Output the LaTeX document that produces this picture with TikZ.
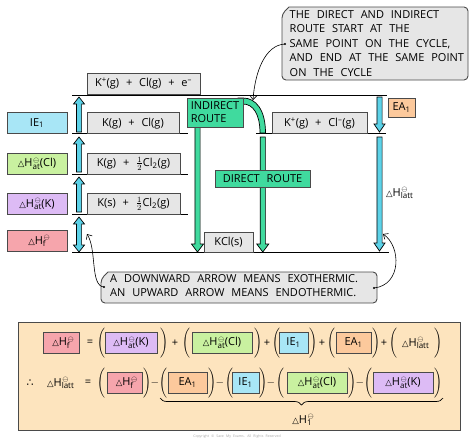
\documentclass[tikz,border=0pt]{standalone}
\usepackage{fontspec}
\setmainfont{Open Sans}[WordSpace=2.4]
\newfontfamily\symfont{DejaVu Sans}
\usetikzlibrary{arrows.meta,decorations.pathreplacing}
\definecolor{cyanA}{HTML}{5CD2E8}
\definecolor{greenR}{HTML}{40DA9E}
\definecolor{grayB}{HTML}{E6E6E6}
\definecolor{blueL}{HTML}{A8E6F6}
\definecolor{greenL}{HTML}{C9F1A0}
\definecolor{purpleL}{HTML}{DDBBF5}
\definecolor{pinkL}{HTML}{F6A5AC}
\definecolor{orangeL}{HTML}{FCC99C}
\definecolor{peach}{HTML}{FDE4BE}
\definecolor{edge}{HTML}{4A4A4A}
\newcommand\tri{{\symfont\fontsize{8.5}{8.5}\selectfont △}}
\newcommand\Hs[1]{\tri H\rlap{\raisebox{4.8pt}{\kern0.6pt\fontsize{7}{7}\selectfont$\ominus$}}\raisebox{-2.2pt}{\fontsize{8}{8}\selectfont #1}}
\newcommand\bp{$\Bigg($}
\newcommand\bq{$\Bigg)$}
\newcommand\harrow[7]{%
  \pgfmathsetmacro\hy{#3-((#3>#2)?1:-1)*#7}%
  \filldraw[fill=#4,draw=black,line width=0.7pt]
  ({#1-#5},#2) -- ({#1+#5},#2) -- ({#1+#5},\hy) -- ({#1+#6},\hy) -- (#1,#3)
  -- ({#1-#6},\hy) -- ({#1-#5},\hy) -- cycle;}
\tikzset{
  lvl/.style={draw=black,line width=0.8pt},
  lvlbox/.style={draw=edge,fill=grayB,line width=0.8pt,minimum height=21pt,inner sep=0pt,font=\fontsize{11}{13}\selectfont},
  tagbox/.style={draw=edge,line width=0.8pt,minimum height=21pt,minimum width=60pt,inner sep=0pt,font=\fontsize{11}{13}\selectfont},
  eqbox/.style={draw=edge,line width=0.9pt,minimum height=21pt,inner sep=0pt,font=\fontsize{11}{13}\selectfont},
  route/.style={draw=edge,fill=greenR,line width=0.8pt,inner sep=0pt,font=\fontsize{11}{13}\selectfont},
  sym/.style={inner sep=0pt,font=\fontsize{11}{13}\selectfont},
  callarr/.style={draw=black,line width=0.6pt,-{Straight Barb[length=4pt,width=7pt]}},
  calltext/.style={inner sep=0pt,align=left,font=\fontsize{11}{14.5}\selectfont}
}
\begin{document}
\begin{tikzpicture}[x=1pt,y=-1pt]
\useasboundingbox[fill=white] (0,0) rectangle (474,442);
% level lines
\draw[lvl] (72,95) -- (387,95);
\draw[lvl] (72,133.5) -- (188,133.5);
\draw[lvl] (256,133.5) -- (386,133.5);
\draw[lvl] (72,174) -- (188,174);
\draw[lvl] (72,214) -- (188,214);
\draw[lvl] (72,252) -- (389,252);
% level boxes
\node[lvlbox,minimum width=113pt] (l1) at (143.5,83.5) {K\textsuperscript{+}(g) + Cl(g) + e\textsuperscript{–}};
\node[lvlbox,minimum width=92pt] (l2) at (133,123.25) {K(g) + Cl(g)};
\node[lvlbox,minimum width=93pt] (l3) at (133.5,163.5) {K(g) + $\frac{1}{2}$Cl\textsubscript{2}(g)};
\node[lvlbox,minimum width=93pt] (l4) at (133.5,203.5) {K(s) + $\frac{1}{2}$Cl\textsubscript{2}(g)};
\node[lvlbox,minimum width=95pt] (l5) at (319.5,123.25) {K\textsuperscript{+}(g) + Cl\textsuperscript{–}(g)};
\node[lvlbox,minimum width=49pt,minimum height=20pt] (l6) at (228.5,242) {KCl(s)};
% left tags
\node[tagbox,fill=blueL] (t1) at (37,123) {IE\textsubscript{1}};
\node[tagbox,fill=greenL] (t2) at (37,163.5) {\Hs{at}(Cl)};
\node[tagbox,fill=purpleL] (t3) at (37,204) {\Hs{at}(K)};
\node[tagbox,fill=pinkL] (t4) at (37,241) {\Hs{f}};
% left cyan arrows
\harrow{79}{132}{97}{cyanA}{2.6}{5.5}{7}
\harrow{79}{172}{137}{cyanA}{2.6}{5.5}{7}
\harrow{79}{212}{177}{cyanA}{2.6}{5.5}{7}
\filldraw[fill=cyanA,draw=black,line width=0.7pt]
  (79,217) -- (84.5,224) -- (81.6,224) -- (81.6,245) -- (84.5,245) -- (79,252)
  -- (73.5,245) -- (76.4,245) -- (76.4,224) -- (73.5,224) -- cycle;
% right cyan arrows
\harrow{379.5}{97}{132}{cyanA}{2.6}{5.5}{8}
\harrow{379.5}{137}{251}{cyanA}{2.6}{5.5}{8}
\node[tagbox,fill=orangeL,minimum width=27pt,minimum height=19pt] (ea) at (401.5,107.5) {EA\textsubscript{1}};
\node[sym,anchor=west] (latt) at (386,193) {\Hs{latt}};
% green routes
\filldraw[fill=greenR,draw=black,line width=0.7pt]
  (238,98) -- (243,98) .. controls (256,98) and (265.5,110) .. (265.5,133)
  -- (260,133) .. controls (260,114) and (253,104) .. (243,104) -- (238,104) -- cycle;
\harrow{197.5}{127}{252}{greenR}{2.6}{6}{8}
\harrow{262.75}{137}{252}{greenR}{2.6}{6}{8}
\node[route,minimum width=56pt,minimum height=29pt,align=left] (ir) at (215,112.5) {INDIRECT\\ROUTE};
\node[route,minimum width=95pt,minimum height=17pt] (dr) at (262.5,178.5) {DIRECT ROUTE};
% top callout
\draw[fill=grayB,draw=edge,line width=0.9pt,rounded corners=4pt]
  (282,80) -- (282,14) [sharp corners] -- (289,7) [rounded corners=4pt] -- (468,7) -- (468,80) -- cycle;
\node[calltext,anchor=north west] (ct) at (289.5,10) {THE DIRECT AND INDIRECT\\ROUTE START AT THE\\SAME POINT ON THE CYCLE,\\AND END AT THE SAME POINT\\ON THE CYCLE};
\coordinate (c1s) at (285,44);
\coordinate (c1e) at (253,100);
\fill (c1s) circle (1.1);
\draw[callarr] (c1s) .. controls (265,45) and (255,72) .. (c1e);
% bottom callout
\draw[fill=grayB,draw=edge,line width=0.9pt,rounded corners=4pt]
  (101,303) -- (101,279) [sharp corners] -- (108,272) [rounded corners=4pt] -- (377,272) -- (377,303) -- cycle;
\node[calltext,anchor=north west,font=\fontsize{11}{14}\selectfont] (cb) at (110,274.5) {A DOWNWARD ARROW MEANS EXOTHERMIC.\\AN UPWARD ARROW MEANS ENDOTHERMIC.};
\coordinate (c2s) at (104,287);
\coordinate (c2e) at (87,234);
\coordinate (c3s) at (374,288);
\coordinate (c3e) at (383,234);
\fill (c2s) circle (1.1);
\fill (c3s) circle (1.1);
\draw[callarr] (c2s) .. controls (90,286) and (97,250) .. (c2e);
\draw[callarr] (c3s) .. controls (402,285) and (401,246) .. (c3e);
% equation box
\draw[fill=peach,draw=edge,line width=1pt] (18,322) rectangle (460,430);
% row 1
\node[eqbox,fill=pinkL,minimum width=36pt] (r1a) at (61,342.5) {\Hs{f}};
\node[sym] (r1eq) at (90,343) {=};
\node[sym] (r1p1) at (101,343) {\bp};
\node[eqbox,fill=purpleL,minimum width=52pt] (r1b) at (131,342.5) {\Hs{at}(K)};
\node[sym] (r1q1) at (164,343) {\bq};
\node[sym] (r1s1) at (175,343) {+};
\node[sym] (r1p2) at (186,343) {\bp};
\node[eqbox,fill=greenL,minimum width=60pt] (r1c) at (222,342.5) {\Hs{at}(Cl)};
\node[sym] (r1q2) at (258,343) {\bq};
\node[sym] (r1s2) at (267,343) {+};
\node[sym] (r1p3) at (276,343) {\bp};
\node[eqbox,fill=blueL,minimum width=29pt] (r1d) at (293.5,342.5) {IE\textsubscript{1}};
\node[sym] (r1q3) at (313,343) {\bq};
\node[sym] (r1s3) at (322,343) {+};
\node[sym] (r1p4) at (331,343) {\bp};
\node[eqbox,fill=orangeL,minimum width=35pt] (r1e) at (353.5,342.5) {EA\textsubscript{1}};
\node[sym] (r1q4) at (376,343) {\bq};
\node[sym] (r1s4) at (384,343) {+};
\node[sym] (r1p5) at (393,343) {\bp};
\node[sym] (r1f) at (415.5,343) {\Hs{latt}};
\node[sym] (r1q5) at (438,343) {\bq};
% row 2
\node[sym] (r2t) at (30,383) {{\symfont ∴}};
\node[sym] (r2a) at (60.5,383) {\Hs{latt}};
\node[sym] (r2eq) at (88,383) {=};
\node[sym] (r2p1) at (101,383) {\bp};
\node[eqbox,fill=pinkL,minimum width=35pt] (r2b) at (124.5,382.5) {\Hs{f}};
\node[sym] (r2q1) at (147,383) {\bq};
\node[sym] (r2m1) at (155,383) {$-$};
\node[sym] (r2p2) at (163,383) {\bp};
\node[eqbox,fill=orangeL,minimum width=39pt] (r2c) at (187.5,382.5) {EA\textsubscript{1}};
\node[sym] (r2q2) at (212,383) {\bq};
\node[sym] (r2m2) at (220,383) {$-$};
\node[sym] (r2p3) at (229,383) {\bp};
\node[eqbox,fill=blueL,minimum width=27pt] (r2d) at (245.5,382.5) {IE\textsubscript{1}};
\node[sym] (r2q3) at (263,383) {\bq};
\node[sym] (r2m3) at (271,383) {$-$};
\node[sym] (r2p4) at (280,383) {\bp};
\node[eqbox,fill=greenL,minimum width=60pt] (r2e) at (317,382.5) {\Hs{at}(Cl)};
\node[sym] (r2q4) at (352,383) {\bq};
\node[sym] (r2m4) at (360,383) {$-$};
\node[sym] (r2p5) at (368,383) {\bp};
\node[eqbox,fill=purpleL,minimum width=60pt] (r2f) at (403,382.5) {\Hs{at}(K)};
\node[sym] (r2q5) at (438,383) {\bq};
\coordinate (bs) at (160,398);
\coordinate (be) at (443,398);
\draw[line width=0.7pt,decorate,decoration={brace,mirror,amplitude=7pt}] (bs) -- (be);
\node[sym] (h1) at (302,420) {\Hs{1}};
\node[inner sep=0pt,text=black!35,font=\fontsize{3.5}{4}\selectfont] (cp) at (237,437) {Copyright © Save My Exams. All Rights Reserved};
\end{tikzpicture}
\end{document}
